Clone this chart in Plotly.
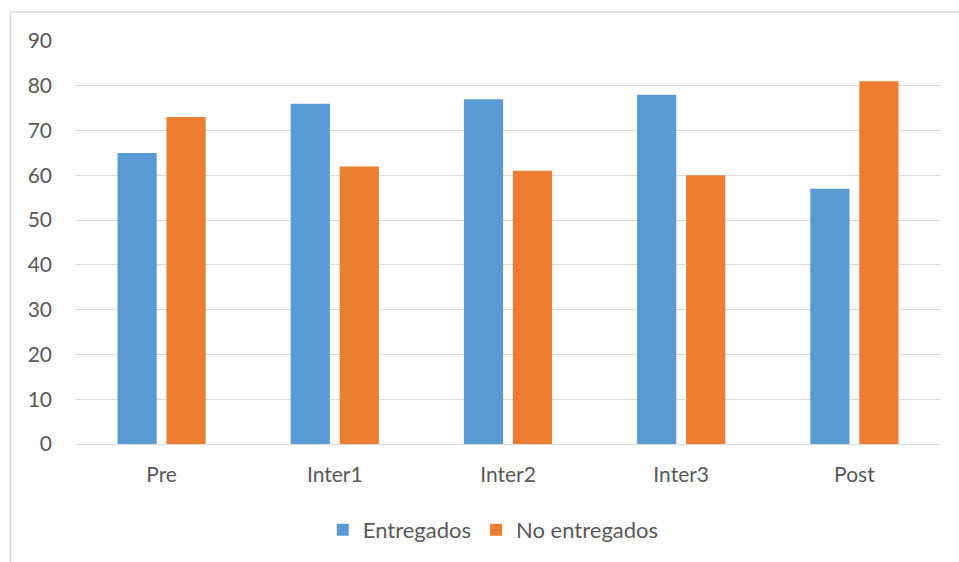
import plotly.graph_objects as go

categories = ["Pre", "Inter1", "Inter2", "Inter3", "Post"]
entregados = [65, 76, 77, 78, 57]
no_entregados = [73, 62, 61, 60, 81]
y_ticks = [0, 10, 20, 30, 40, 50, 60, 70, 80, 90]

font = dict(family="Lato, Open Sans, sans-serif", size=21, color="#595959")
legend_font = dict(family="Lato, Open Sans, sans-serif", size=22, color="#595959")

fig = go.Figure()
fig.add_trace(go.Bar(x=categories, y=entregados, name="Entregados", marker=dict(color="#5B9BD5", line=dict(width=0))))
fig.add_trace(go.Bar(x=categories, y=no_entregados, name="No entregados", marker=dict(color="#ED7D31", line=dict(width=0))))

L, R, T, B = 75, 18, 41, 117
W, H = 959, 562
pw, ph = W - L - R, H - T - B

fig.update_layout(
    width=W, height=H,
    margin=dict(l=L, r=R, t=T, b=B),
    paper_bgcolor="white", plot_bgcolor="white",
    barmode="group", bargap=0.434, bargroupgap=0.2,
    font=font,
    showlegend=True,
    legend=dict(orientation="h", x=0.483, xanchor="center", y=(445 - 530) / ph, yanchor="middle",
                font=legend_font, itemwidth=30, traceorder="normal"),
    xaxis=dict(showgrid=False, showline=False, ticks="", ticklabelstandoff=16, tickfont=font),
    yaxis=dict(range=[0, 90], tickvals=y_ticks, showgrid=True, gridcolor="#D9D9D9", gridwidth=1,
               zeroline=True, zerolinecolor="#D9D9D9", zerolinewidth=1, showline=False,
               ticks="", ticklabelstandoff=22, tickfont=font),
    shapes=[dict(type="rect", xref="paper", yref="paper",
                 x0=(10.5 - L) / pw, x1=(W + 5 - L) / pw,
                 y0=-(H + 5 - (H - B)) / ph, y1=1 + (T - 12) / ph,
                 line=dict(color="#D9D9D9", width=1.5), fillcolor="rgba(0,0,0,0)", layer="below")],
)

fig.write_html("out.html")
